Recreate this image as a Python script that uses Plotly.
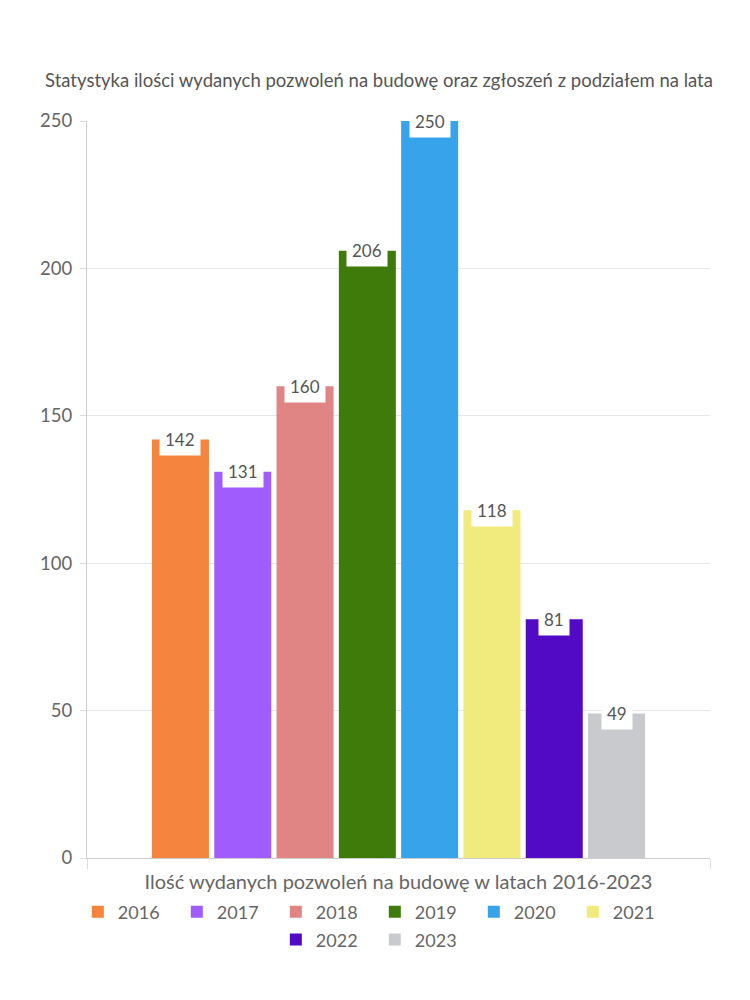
import plotly.graph_objects as go

years = ["2016", "2017", "2018", "2019", "2020", "2021", "2022", "2023"]
values = [142, 131, 160, 206, 250, 118, 81, 49]
colors = ["#F5843F", "#A05CFD", "#E18484", "#3E7B0B", "#36A3EA", "#F0EB7C", "#520AC5", "#C9CACE"]
title_text = "Statystyka ilości wydanych pozwoleń na budowę oraz zgłoszeń z podziałem na lata"
x_title = "Ilość wydanych pozwoleń na budowę w latach 2016-2023"
y_ticks = [0, 50, 100, 150, 200, 250]

FONT = "Lato"
TXT = "#666666"

fig = go.Figure()
for i, (yr, v, c) in enumerate(zip(years, values, colors)):
    fig.add_trace(go.Bar(
        x=[i], y=[v], name=yr, marker=dict(color=c, line=dict(width=0)),
        width=0.915, hoverinfo="name+y",
        legend="legend" if i < 6 else "legend2",
    ))
    fig.add_annotation(
        x=i, y=v, xref="x", yref="y", text=str(v), showarrow=False,
        font=dict(family=FONT, size=17, color="#555555"),
        bgcolor="white", borderpad=5, yanchor="middle", xanchor="center",
    )

leg_common = dict(orientation="h", xanchor="center", yanchor="middle",
                  font=dict(family=FONT, size=18, color=TXT),
                  entrywidth=54, itemwidth=30, traceorder="normal",
                  bgcolor="rgba(0,0,0,0)")

fig.update_layout(
    width=742, height=992,
    margin=dict(l=79, r=40, t=113, b=142),
    paper_bgcolor="white", plot_bgcolor="white",
    font=dict(family=FONT, color=TXT),
    title=dict(text=title_text, x=0.5, xanchor="center", xref="container",
               y=0.927, yref="container", yanchor="middle",
               font=dict(family=FONT, size=18.5, color="#555555")),
    showlegend=True,
    legend=dict(x=0.462, y=-0.0733, **leg_common),
    legend2=dict(x=0.462, y=-0.111, **leg_common),
    barmode="overlay",
)
fig.update_xaxes(
    range=[-1.5, 8.5], tickvals=[-1.5, 8.5], showticklabels=False,
    ticks="outside", ticklen=10, tickcolor="#dddddd",
    showgrid=True, gridcolor="#e6e6e6",
    showline=True, linecolor="#cccccc", zeroline=False,
    title=dict(text=x_title, standoff=6, font=dict(family=FONT, size=20, color=TXT)),
    fixedrange=True,
)
fig.update_yaxes(
    range=[0, 250], tickvals=y_ticks, ticks="outside", ticklen=6, tickcolor="#dddddd",
    showgrid=True, gridcolor="#e6e6e6", showline=True, linecolor="#cccccc",
    zeroline=False, tickfont=dict(family=FONT, size=18.5, color=TXT),
    ticklabelstandoff=4, fixedrange=True,
)

fig.write_html("out.html")
